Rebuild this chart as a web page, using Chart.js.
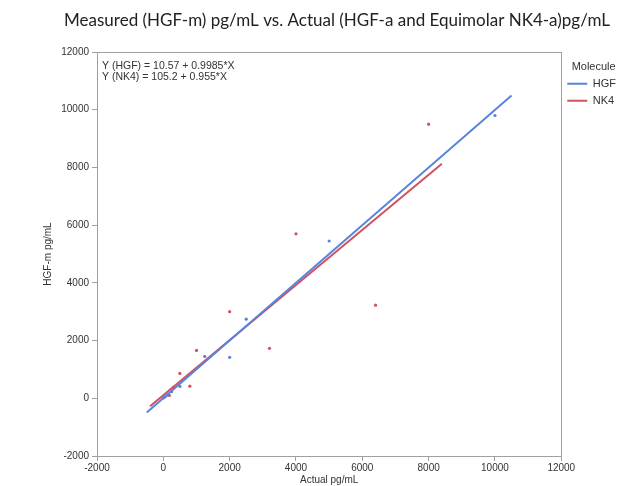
<!DOCTYPE html>
<html>
<head>
<meta charset="utf-8">
<script src="https://cdn.jsdelivr.net/npm/chart.js@4.4.1/dist/chart.umd.min.js"></script>
<style>
html,body{margin:0;padding:0;background:#fff;}
#wrap{width:634px;height:486px;}
</style>
</head>
<body>
<div id="wrap"><canvas id="c" width="634" height="486"></canvas></div>
<script>
// ---- data ----
const hgfActual   = [0, 60, 125, 250, 500, 1250, 2000, 2500, 5000, 10000];
const hgfMeasured = [30, 50, 110, 230, 410, 1450, 1420, 2740, 5450, 9800];
const nk4Actual   = [0, 180, 300, 500, 800, 1000, 2000, 3200, 4000, 6400, 8000];
const nk4Measured = [10, 100, 380, 860, 420, 1660, 3000, 1730, 5700, 3225, 9500];
// regression fits shown on the chart: [intercept, slope], fitted x range
const hgfFit = [10.57, 0.9985];
const nk4Fit = [105.2, 0.955];
const hgfFitRange = [-500, 10500];
const nk4FitRange = [-400, 8400];
const chartTitle = 'Measured (HGF-m) pg/mL vs. Actual (HGF-a and Equimolar NK4-a)pg/mL';
const equationLines = ['Y (HGF) = 10.57 + 0.9985*X', 'Y (NK4) = 105.2 + 0.955*X'];
const xTicks = [-2000, 0, 2000, 4000, 6000, 8000, 10000, 12000];
const yTicks = [-2000, 0, 2000, 4000, 6000, 8000, 10000, 12000];

const BLUE = 'rgb(88,132,220)';
const RED = 'rgb(208,82,92)';
const AXIS = '#a0a0a0';
const TXT = '#333';
const SANS = '"Liberation Sans", Arial, sans-serif';

const pts = (xs, ys) => xs.map((x, i) => ({x, y: ys[i]}));
const fitPts = (fit, range) => range.map(x => ({x, y: fit[0] + fit[1] * x}));

const framePlugin = {
  id: 'frame',
  afterDraw(chart) {
    const {ctx, chartArea: a} = chart;
    ctx.save();
    ctx.strokeStyle = AXIS;
    ctx.lineWidth = 1;
    ctx.strokeRect(Math.round(a.left) + 0.5, Math.round(a.top) + 0.5,
                   Math.round(a.right - a.left), Math.round(a.bottom - a.top));
    ctx.fillStyle = TXT;
    ctx.font = '10.5px ' + SANS;
    ctx.textBaseline = 'middle';
    ctx.textAlign = 'left';
    equationLines.forEach((t, i) => ctx.fillText(t, a.left + 5, a.top + 14 + i * 11));
    // chart title
    ctx.fillStyle = '#222';
    ctx.font = '17px Lato, "Open Sans", sans-serif';
    ctx.textAlign = 'center';
    ctx.fillText(chartTitle, 337, 21);
    ctx.restore();
  }
};

new Chart(document.getElementById('c'), {
  type: 'scatter',
  data: {
    datasets: [
      {label: 'HGF', type: 'line', data: fitPts(hgfFit, hgfFitRange), borderColor: BLUE, backgroundColor: BLUE,
       borderWidth: 2, pointRadius: 0, fill: false, order: 2},
      {label: 'NK4', type: 'line', data: fitPts(nk4Fit, nk4FitRange), borderColor: RED, backgroundColor: RED,
       borderWidth: 2, pointRadius: 0, fill: false, order: 2},
      {label: 'HGF points', data: pts(hgfActual, hgfMeasured), backgroundColor: BLUE, borderColor: BLUE,
       pointRadius: 1.6, borderWidth: 0, order: 1},
      {label: 'NK4 points', data: pts(nk4Actual, nk4Measured), backgroundColor: RED, borderColor: RED,
       pointRadius: 1.6, borderWidth: 0, order: 1}
    ]
  },
  options: {
    responsive: false,
    animation: false,
    events: [],
    layout: {padding: {left: 38, right: 8, top: 52, bottom: 0}},
    plugins: {
      tooltip: {enabled: false},
      title: {display: false},
      legend: {
        display: true,
        position: 'right',
        align: 'start',
        title: {display: true, text: 'Molecule', color: TXT, position: 'center',
                font: {family: SANS, size: 11}, padding: {top: 9, bottom: -2}},
        labels: {
          filter: (item) => item.datasetIndex < 2,
          usePointStyle: true,
          pointStyle: 'line',
          pointStyleWidth: 20,
          boxWidth: 20,
          padding: 6,
          color: TXT,
          font: {family: SANS, size: 11}
        }
      }
    },
    scales: {
      x: {
        type: 'linear', min: -2000, max: 12000,
        afterBuildTicks: (s) => { s.ticks = xTicks.map(v => ({value: v})); },
        afterFit: (s) => { s.height = 30; },
        grid: {drawOnChartArea: false, drawTicks: true, tickLength: 5, color: AXIS},
        border: {display: true, color: AXIS},
        ticks: {color: TXT, padding: 1, maxRotation: 0, autoSkip: false,
                callback: (v) => String(v),
                font: {family: SANS, size: 10}},
        title: {display: true, text: 'Actual pg/mL', color: TXT, padding: {top: 0, bottom: 0},
                font: {family: SANS, size: 10}}
      },
      y: {
        type: 'linear', min: -2000, max: 12000,
        afterBuildTicks: (s) => { s.ticks = yTicks.map(v => ({value: v})); },
        afterFit: (s) => { s.width = 59; },
        grid: {drawOnChartArea: false, drawTicks: true, tickLength: 5, color: AXIS},
        border: {display: true, color: AXIS},
        ticks: {color: TXT, padding: 3, autoSkip: false,
                callback: (v) => String(v),
                font: {family: SANS, size: 10}},
        title: {display: true, text: 'HGF-m pg/mL', color: TXT, padding: {top: 4, bottom: 0},
                font: {family: SANS, size: 10}}
      }
    }
  },
  plugins: [framePlugin]
});
</script>
</body>
</html>
